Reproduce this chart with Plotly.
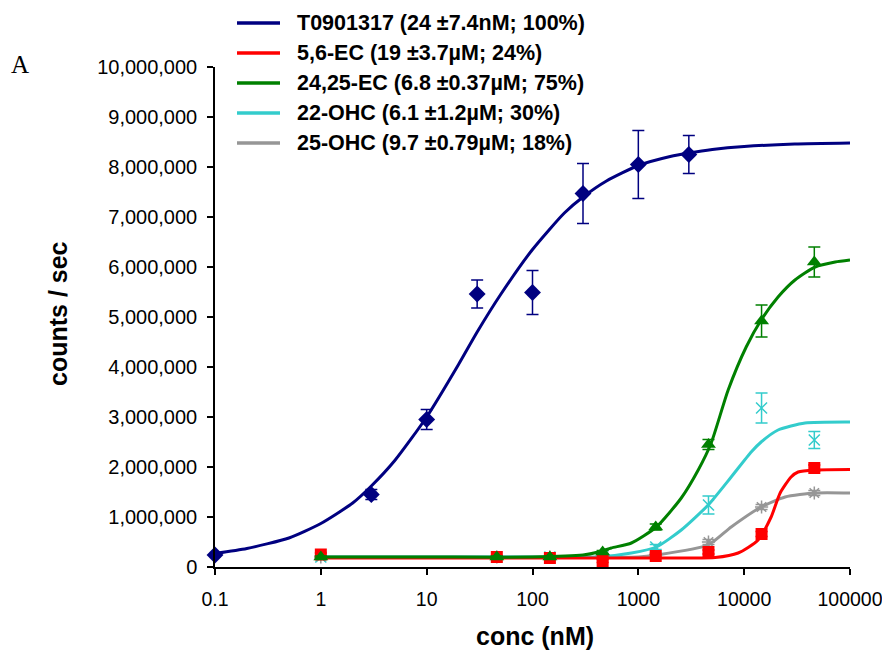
import plotly.graph_objects as go

# ---------------- data ----------------
# T0901317 measured points
t_conc = [0.1, 3, 10, 30, 100, 300, 1000, 3000]
t_vals = [240000, 1450000, 2950000, 5460000, 5490000, 7470000, 8050000, 8250000]
t_err = [30000, 100000, 200000, 280000, 440000, 600000, 680000, 380000]

# oxysterol measured points (shared concentrations)
ox_conc = [1, 46, 146, 460, 1460, 4600, 14600, 46000]
ec56_vals = [250000, 200000, 180000, 120000, 220000, 300000, 660000, 1980000]
ec56_err = [30000, 30000, 30000, 30000, 30000, 40000, 50000, 60000]
ec2425_vals = [200000, 200000, 200000, 300000, 800000, 2450000, 4920000, 6100000]
ec2425_err = [20000, 20000, 20000, 30000, 60000, 100000, 320000, 300000]
ohc22_vals = [200000, 200000, 200000, 220000, 400000, 1240000, 3180000, 2540000]
ohc22_err = [20000, 20000, 20000, 20000, 50000, 180000, 300000, 170000]
ohc25_vals = [200000, 200000, 200000, 200000, 250000, 500000, 1200000, 1480000]
ohc25_err = [20000, 20000, 20000, 20000, 30000, 50000, 50000, 50000]

# fitted curves
t_fit_conc = [0.1, 0.2, 0.5, 1, 2, 3, 5, 10, 20, 30, 50, 100, 200, 300, 500,
              1000, 2000, 3000, 5000, 10000, 30000, 100000]
t_fit_vals = [270000, 370000, 580000, 870000, 1280000, 1620000, 2130000, 3000000,
              4050000, 4700000, 5450000, 6350000, 7080000, 7400000, 7720000,
              8030000, 8210000, 8280000, 8350000, 8410000, 8460000, 8480000]

ec2425_fit_conc = [1, 10, 100, 300, 420, 556, 860, 1480, 2545, 3680, 4880, 7060,
                   10450, 14470, 20900, 30200, 46800, 72400, 100000]
ec2425_fit_vals = [200000, 200000, 200000, 240000, 300000, 380000, 480000, 800000,
                   1380000, 1940000, 2480000, 3540000, 4400000, 4940000, 5400000,
                   5740000, 6000000, 6100000, 6140000]

ohc22_fit_conc = [1, 100, 420, 860, 1480, 2545, 4570, 7540, 11650, 14470, 20900,
                  37600, 100000]
ohc22_fit_vals = [200000, 200000, 200000, 280000, 400000, 740000, 1240000, 1800000,
                  2300000, 2500000, 2740000, 2880000, 2900000]

ec56_fit_conc = [1, 100, 1000, 3000, 5320, 8770, 13550, 17980, 21880, 27750,
                 32340, 46800, 100000]
ec56_fit_vals = [180000, 180000, 180000, 180000, 190000, 280000, 540000, 1000000,
                 1480000, 1800000, 1900000, 1940000, 1950000]

ohc25_fit_conc = [1, 100, 1000, 1480, 4570, 7540, 14470, 24380, 46800, 100000]
ohc25_fit_vals = [200000, 200000, 200000, 240000, 440000, 800000, 1200000, 1400000,
                  1480000, 1480000]

x_tickvals = [0.1, 1, 10, 100, 1000, 10000, 100000]
x_ticktext = ["0.1", "1", "10", "100", "1000", "10000", "100000"]

series_keys = ["t", "ec56", "ec2425", "ohc22", "ohc25"]
names = {
    "t": "T0901317 (24 \u00b17.4nM; 100%)",
    "ec56": "5,6-EC (19 \u00b13.7\u00b5M; 24%)",
    "ec2425": "24,25-EC (6.8 \u00b10.37\u00b5M; 75%)",
    "ohc22": "22-OHC (6.1 \u00b11.2\u00b5M; 30%)",
    "ohc25": "25-OHC (9.7 \u00b10.79\u00b5M; 18%)",
}
colors = {
    "t": "#000080",
    "ec56": "#FF0000",
    "ec2425": "#008000",
    "ohc22": "#33CCCC",
    "ohc25": "#969696",
}

# ---------------- geometry (page has an 8px body margin) ----------------
OFF = 8
W, H = 890 - OFF, 658 - 2 * OFF
AX_L, AX_R, AX_T, AX_B = 215, 850, 67, 567      # target screen pixels of plot area
ML, MT = AX_L - OFF, AX_T - OFF
MR, MB = W - (AX_R - OFF), H - (AX_B - OFF)
PW, PH = AX_R - AX_L, AX_B - AX_T


def sx(px):
    return (px - AX_L) / PW


def sy(py):
    return (AX_B - py) / PH


fig = go.Figure()


def add_series(key, fx, fy, px, py, perr, symbol, msize, mline=0):
    c = colors[key]
    fig.add_trace(go.Scatter(
        x=fx, y=fy, mode="lines", name=names[key], showlegend=False,
        line=dict(color=c, width=3, shape="spline", smoothing=0.6),
        hoverinfo="skip"))
    fig.add_trace(go.Scatter(
        x=px, y=py, mode="markers", showlegend=False, cliponaxis=False,
        name=names[key],
        marker=dict(symbol=symbol, size=msize, color=c,
                    line=dict(color=c, width=mline)),
        error_y=dict(type="data", array=perr, visible=True, color=c,
                     thickness=1.5, width=6)))


add_series("ohc25", ohc25_fit_conc, ohc25_fit_vals, ox_conc, ohc25_vals, ohc25_err,
           "asterisk-open", 11, 1.5)
add_series("ohc22", ohc22_fit_conc, ohc22_fit_vals, ox_conc, ohc22_vals, ohc22_err,
           "x-thin-open", 11, 1.5)
add_series("ec56", ec56_fit_conc, ec56_fit_vals, ox_conc, ec56_vals, ec56_err,
           "square", 12)
add_series("ec2425", ec2425_fit_conc, ec2425_fit_vals, ox_conc, ec2425_vals, ec2425_err,
           "triangle-up", 13)
add_series("t", t_fit_conc, t_fit_vals, t_conc, t_vals, t_err,
           "diamond", 13)

# ---------------- legend (lines + labels) ----------------
legend_font = dict(family="Liberation Sans, Arial, sans-serif", size=21.5,
                   color="black", weight="bold")
row_y0, row_dy = 23, 30
for i, key in enumerate(series_keys):
    yy = sy(row_y0 + i * row_dy)
    fig.add_shape(type="line", xref="paper", yref="paper",
                  x0=sx(237), x1=sx(280), y0=yy, y1=yy,
                  line=dict(color=colors[key], width=3.5))
    fig.add_annotation(text=names[key], xref="paper", yref="paper",
                       x=sx(295), y=yy, xanchor="left", yanchor="middle",
                       showarrow=False, font=legend_font)

fig.add_annotation(
    text="A", xref="paper", yref="paper", x=sx(20), y=sy(64),
    xanchor="center", yanchor="middle", showarrow=False,
    font=dict(family="Liberation Serif, Times New Roman, serif", size=25, color="black"))

axis_font = dict(family="Liberation Sans, Arial, sans-serif", size=20, color="black")
title_font = dict(family="Liberation Sans, Arial, sans-serif", size=25, color="black",
                  weight="bold")

# axis titles placed as annotations for exact positioning
fig.add_annotation(text="conc (nM)", xref="paper", yref="paper",
                   x=sx(535), y=sy(636), xanchor="center", yanchor="middle",
                   showarrow=False, font=title_font)
fig.add_annotation(text="counts / sec", xref="paper", yref="paper",
                   x=sx(58), y=sy(314), xanchor="center", yanchor="middle",
                   textangle=-90, showarrow=False, font=title_font)

fig.update_layout(
    width=W, height=H,
    margin=dict(l=ML, r=MR, t=MT, b=MB, autoexpand=False),
    paper_bgcolor="white", plot_bgcolor="white",
    font=axis_font,
    showlegend=False,
    xaxis=dict(
        type="log", range=[-1, 5], automargin=False,
        tickvals=x_tickvals, ticktext=x_ticktext,
        tickfont=dict(family="Liberation Sans, Arial, sans-serif", size=19.5,
                      color="black"),
        showline=True, linecolor="black", linewidth=1.5,
        ticks="outside", ticklen=6, tickwidth=1.5, tickcolor="black",
        showgrid=False, zeroline=False,
        ticklabelstandoff=8, ticklabeloverflow="allow",
    ),
    yaxis=dict(
        range=[0, 10000000], dtick=1000000, tick0=0, tickformat=",",
        automargin=False,
        showline=True, linecolor="black", linewidth=1.5,
        ticks="outside", ticklen=6, tickwidth=1.5, tickcolor="black",
        showgrid=False, zeroline=False,
        ticklabelstandoff=6,
    ),
)

fig.write_html("out.html")
